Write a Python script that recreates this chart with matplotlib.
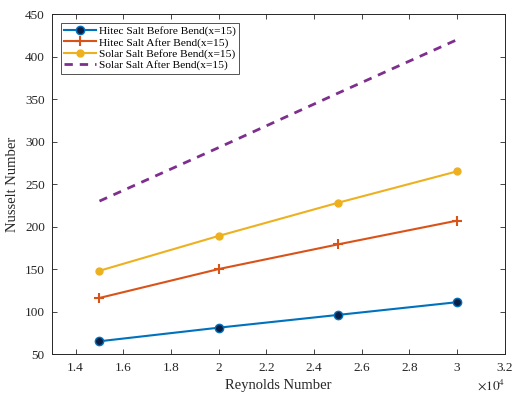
import matplotlib
matplotlib.use("Agg")
import matplotlib.pyplot as plt

reynolds = [1.5, 2.0, 2.5, 3.0]  # x 10^4
hitec_before = [65, 81, 96, 111]
hitec_after = [116, 150, 179, 207]
solar_before = [148, 189, 228, 265]
solar_after = [230, 293, 357, 420]

labels = [
    "Hitec Salt Before Bend(x=15)",
    "Hitec Salt After Bend(x=15)",
    "Solar Salt Before Bend(x=15)",
    "Solar Salt After Bend(x=15)",
]

plt.rcParams["font.family"] = ["Liberation Serif", "DejaVu Serif"]
plt.rcParams["mathtext.fontset"] = "stix"

fig = plt.figure(figsize=(5.13, 3.94), dpi=100)
ax = fig.add_axes([0.101, 0.1015, 0.883, 0.8625])

ax.plot(reynolds, hitec_before, "-o", color="#0072BD", lw=1.5,
        markersize=6, markerfacecolor="#0b1f45", markeredgecolor="#0072BD",
        label=labels[0])
ax.plot(reynolds, hitec_after, "-+", color="#D95319", lw=1.5,
        markersize=7, markeredgewidth=1.5, label=labels[1])
ax.plot(reynolds, solar_before, "-o", color="#EDB120", lw=1.5,
        markersize=5, label=labels[2])
ax.plot(reynolds, solar_after, "--", color="#7E2F8E", lw=2,
        dashes=(3, 2.5), label=labels[3])

ax.set_xlim(1.3, 3.2)
ax.set_ylim(50, 450)
ax.set_xticks([1.4, 1.6, 1.8, 2.0, 2.2, 2.4, 2.6, 2.8, 3.0, 3.2])
ax.set_xticklabels(["1.4", "1.6", "1.8", "2", "2.2", "2.4", "2.6", "2.8", "3", "3.2"])
ax.set_yticks(range(50, 451, 50))

ax.tick_params(direction="in", top=True, right=True, labelsize=9.5,
               colors="#262626", length=3.5, width=0.6, pad=5)
ax.tick_params(axis="x", pad=6)
for s in ax.spines.values():
    s.set_color("#262626")
    s.set_linewidth(0.7)

ax.set_xlabel("Reynolds Number", fontsize=10.5, color="#262626", labelpad=3)
ax.set_ylabel("Nusselt Number", fontsize=10.5, color="#262626", labelpad=4)
ax.text(1.0, -0.092, r"$\times 10^4$", transform=ax.transAxes, ha="right",
        va="center", fontsize=9.5, color="#262626")

leg = ax.legend(loc="upper left", bbox_to_anchor=(0.012, 0.985), fontsize=8.2,
                frameon=True, fancybox=False, edgecolor="#262626",
                handlelength=2.8, handletextpad=0.25, borderpad=0.3,
                labelspacing=0.1, borderaxespad=0.3)
leg.get_frame().set_linewidth(0.7)

fig.savefig("out.png", dpi=100)
